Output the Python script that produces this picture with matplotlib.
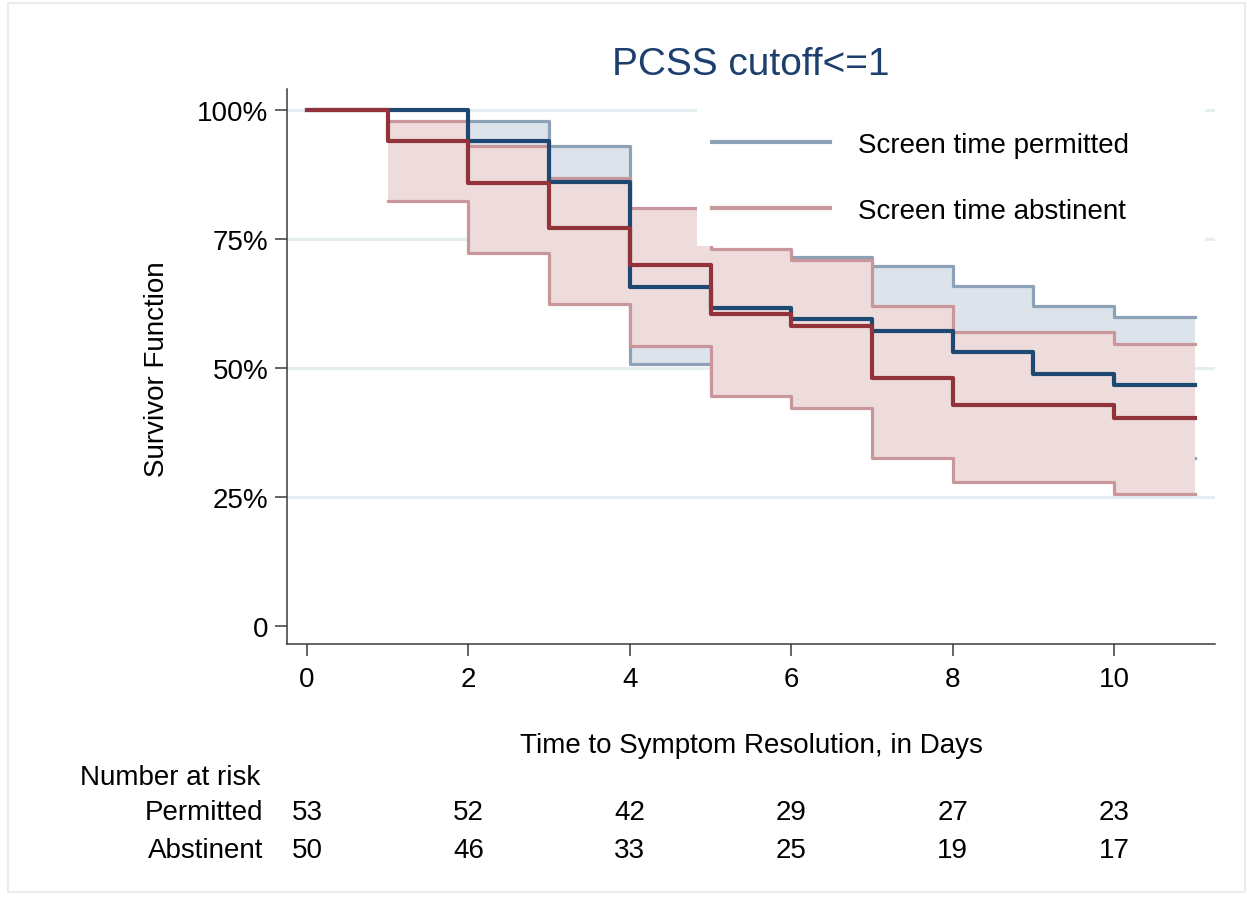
import numpy as np
import matplotlib
matplotlib.use("Agg")
import matplotlib.pyplot as plt
from matplotlib.lines import Line2D
from matplotlib.patches import Rectangle
import matplotlib.transforms as mtransforms

plt.rcParams['font.family'] = ['Liberation Sans', 'DejaVu Sans']

# ---------------- data ----------------
days = [0, 1, 2, 3, 4, 5, 6, 7, 8, 9, 10]          # interval starts; curves end at day 11
end_day = 11
nan = np.nan
perm_surv = [1.0, 1.0, 0.94, 0.86, 0.658, 0.616, 0.595, 0.571, 0.532, 0.488, 0.468]
perm_lo   = [nan, nan, 0.835, 0.745, 0.508, 0.47, 0.45, 0.43, 0.39, 0.35, 0.325]
perm_hi   = [nan, nan, 0.979, 0.93, 0.77, 0.72, 0.716, 0.698, 0.66, 0.62, 0.598]
abst_surv = [1.0, 0.94, 0.858, 0.771, 0.70, 0.605, 0.582, 0.48, 0.428, 0.428, 0.403]
abst_lo   = [nan, 0.824, 0.724, 0.624, 0.543, 0.446, 0.422, 0.325, 0.28, 0.28, 0.256]
abst_hi   = [nan, 0.978, 0.931, 0.868, 0.81, 0.731, 0.71, 0.62, 0.57, 0.57, 0.546]

risk_times = [0, 2, 4, 6, 8, 10]
risk_permitted = [53, 52, 42, 29, 27, 23]
risk_abstinent = [50, 46, 33, 25, 19, 17]

y_ticks = [0, 0.25, 0.5, 0.75, 1.0]
y_ticklabels = ["0", "25%", "50%", "75%", "100%"]
x_ticks = [0, 2, 4, 6, 8, 10]
series_labels = ["Screen time permitted", "Screen time abstinent"]
title = "PCSS cutoff<=1"

# ---------------- style ----------------
BLUE = "#1c4871"
RED = "#92323a"
BLUE_EDGE = "#8ea2b7"
BLUE_FILL = "#dde3eb"
RED_EDGE = "#c9969b"
RED_FILL = "#eedcdd"
GRID = "#e5eef1"
AX = "#3a3a3a"
FS = 20

W, H = 1247, 903
AX_L, AX_R, AX_T, AX_B = 287, 1215, 90, 645
fig = plt.figure(figsize=(W / 100, H / 100), dpi=100)
ax = fig.add_axes([AX_L / W, 1 - AX_B / H, (AX_R - AX_L) / W, (AX_B - AX_T) / H])

def ax_frac(px, py):
    return (px - AX_L) / (AX_R - AX_L), (AX_B - py) / (AX_B - AX_T)

x = np.array(days + [end_day], dtype=float)

def ext(v):
    return np.array(list(v) + [v[-1]], dtype=float)

# gridlines
for g in y_ticks[1:]:
    ax.axhline(g, color=GRID, lw=2.2, zorder=0.5)

# CI bands: permitted first, abstinent on top
ax.fill_between(x, ext(perm_lo), ext(perm_hi), step='post', color=BLUE_FILL, lw=0, zorder=1)
ax.step(x, ext(perm_lo), where='post', color=BLUE_EDGE, lw=2.3, zorder=1.1)
ax.step(x, ext(perm_hi), where='post', color=BLUE_EDGE, lw=2.3, zorder=1.1)
ax.fill_between(x, ext(abst_lo), ext(abst_hi), step='post', color=RED_FILL, lw=0, zorder=1.2)
ax.step(x, ext(abst_lo), where='post', color=RED_EDGE, lw=2.3, zorder=1.3)
ax.step(x, ext(abst_hi), where='post', color=RED_EDGE, lw=2.3, zorder=1.3)

# survival curves
ax.step(x, ext(perm_surv), where='post', color=BLUE, lw=3.0, zorder=3)
ax.step(x, ext(abst_surv), where='post', color=RED, lw=3.0, zorder=3.1)

ax.set_xlim(-0.248, 11.25)
ax.set_ylim(-0.035, 1.041)
ax.set_yticks(y_ticks)
ax.set_yticklabels(y_ticklabels)
ax.set_xticks(x_ticks)
ax.tick_params(axis='both', labelsize=FS, length=8.5, width=1.1, color=AX, labelcolor='black')
ax.tick_params(axis='y', pad=5)
ax.tick_params(axis='x', pad=7)
for s in ['top', 'right']:
    ax.spines[s].set_visible(False)
for s in ['left', 'bottom']:
    ax.spines[s].set_color(AX)
    ax.spines[s].set_linewidth(1.1)

# legend box (white background) and legend
bx0, by1 = ax_frac(697, 100)
bx1, by0 = ax_frac(1205, 247)
ax.add_patch(Rectangle((bx0, by0), bx1 - bx0, by1 - by0, transform=ax.transAxes,
                       facecolor='white', edgecolor='none', zorder=4))
handles = [Line2D([], [], color=BLUE_EDGE, lw=3),
           Line2D([], [], color=RED_EDGE, lw=3)]
lx, ly = ax_frac(712, 179)
leg = ax.legend(handles, series_labels, loc='center left', bbox_to_anchor=(lx, ly),
                fontsize=FS, frameon=False, handlelength=4.25, handletextpad=1.0,
                labelspacing=1.45, borderpad=0, borderaxespad=0)
leg.set_zorder(5)

# title and axis labels
fig.text(751 / W, 1 - 65 / H, title, ha='center', va='center', fontsize=28, color="#1c3f6e")
fig.text(157 / W, 1 - 369 / H, "Survivor Function", rotation=90, ha='center', va='center', fontsize=FS)
fig.text(751 / W, 1 - 746 / H, "Time to Symptom Resolution, in Days", ha='center', va='center', fontsize=FS)

# number at risk table
trans = mtransforms.blended_transform_factory(ax.transData, fig.transFigure)
fig.text(80 / W, 1 - 778 / H, "Number at risk", ha='left', va='center', fontsize=FS)
fig.text(263 / W, 1 - 813 / H, "Permitted", ha='right', va='center', fontsize=FS)
fig.text(263 / W, 1 - 851 / H, "Abstinent", ha='right', va='center', fontsize=FS)
for t, p, a in zip(risk_times, risk_permitted, risk_abstinent):
    ax.text(t, 1 - 813 / H, str(p), transform=trans, ha='center', va='center', fontsize=FS, clip_on=False)
    ax.text(t, 1 - 851 / H, str(a), transform=trans, ha='center', va='center', fontsize=FS, clip_on=False)

# outer frame
fig.patches.append(Rectangle((8 / W, 1 - 893 / H), (1245 - 8) / W, (893 - 4) / H,
                             transform=fig.transFigure, fill=False, edgecolor="#ececec", lw=1.5))

fig.savefig("out.png", dpi=100)
